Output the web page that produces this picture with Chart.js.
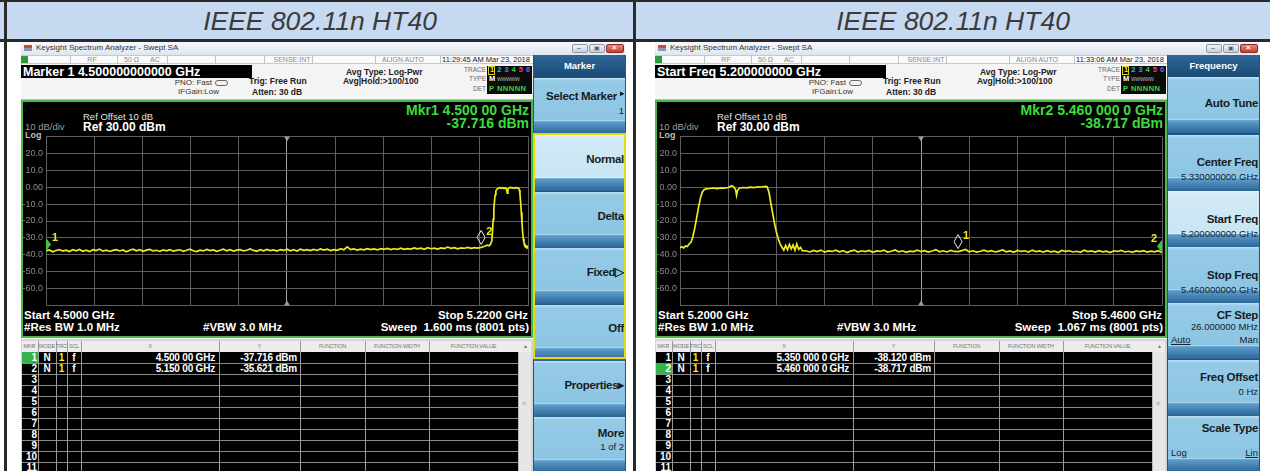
<!DOCTYPE html>
<html>
<head>
<meta charset="utf-8">
<script src="https://cdn.jsdelivr.net/npm/chart.js@4.4.1/dist/chart.umd.min.js"></script>
<style>
  body { margin:0; width:1270px; height:471px; overflow:hidden; background:#fff; position:relative; font-family:"Liberation Sans", Arial, sans-serif; }
  .box { position:absolute; box-sizing:border-box; }
  .t { position:absolute; white-space:nowrap; line-height:14px; height:14px; }
  .r { transform:translateX(-100%); }
  .c { transform:translateX(-50%); }
  .title { position:absolute; top:2px; height:37px; line-height:39px; text-align:center; font-style:italic; font-size:26.5px; color:#3b3b3b; }
  .panel { position:absolute; top:0; width:634px; height:471px; overflow:hidden; }
  .btn { position:absolute; left:534px; width:91px; height:56px;
         background:linear-gradient(#c2e3f3 0%, #95cae6 5%, #8cc5e3 74%, #a9d6ec 76%, #5d9dcb 78%, #2a6596 100%); }
  .btn.sel { background:linear-gradient(#e6f4fa 0%, #d2eaf6 5%, #c9e5f3 74%, #e2f2f9 76%, #5d9dcb 78%, #2a6596 100%); }
  .bt { color:#161c22; font-weight:bold; font-size:11.5px; letter-spacing:-0.3px; }
  .bs { color:#15222e; font-size:9.5px; }
</style>
</head>
<body>
<script>
// axis ticks (dBm), 10 dB/div, ref 30 dBm
const yTickValues = [30, 20, 10, 0, -10, -20, -30, -40, -50, -60, -70];
const yTickLabels = ['', '20.0', '10.0', '0.00', '-10.0', '-20.0', '-30.0', '-40.0', '-50.0', '-60.0', ''];

// frequency spans (GHz)
const leftSpan = [4.5, 5.22];
const rightSpan = [5.2, 5.46];

// trace 1 of the left screen, [GHz, dBm]
const leftTrace = [
  [4.500,-37.7],[4.505,-37.1],[4.510,-38.2],[4.515,-37.4],[4.520,-36.9],[4.525,-37.8],[4.530,-37.2],[4.535,-38.0],[4.540,-37.0],[4.545,-37.6],
  [4.550,-36.8],[4.555,-37.9],[4.560,-37.3],[4.565,-38.1],[4.570,-37.0],[4.575,-37.5],[4.580,-36.6],[4.585,-37.8],[4.590,-37.2],[4.595,-38.0],
  [4.600,-37.4],[4.605,-36.9],[4.610,-37.7],[4.615,-37.1],[4.620,-38.2],[4.625,-37.3],[4.630,-36.7],[4.635,-37.6],[4.640,-37.0],[4.645,-37.9],
  [4.650,-37.2],[4.655,-36.8],[4.660,-37.7],[4.665,-37.3],[4.670,-38.0],[4.675,-37.1],[4.680,-37.6],[4.685,-36.9],[4.690,-37.8],[4.695,-37.4],
  [4.700,-37.0],[4.705,-37.9],[4.710,-37.3],[4.715,-36.7],[4.720,-37.6],[4.725,-38.1],[4.730,-37.2],[4.735,-37.7],[4.740,-36.8],[4.745,-37.5],
  [4.750,-37.1],[4.755,-37.9],[4.760,-37.3],[4.765,-36.6],[4.770,-37.6],[4.775,-37.0],[4.780,-37.8],[4.785,-37.2],[4.790,-36.9],[4.795,-37.7],
  [4.800,-37.3],[4.805,-36.5],[4.810,-37.4],[4.815,-37.9],[4.820,-37.0],[4.825,-37.6],[4.830,-36.8],[4.835,-37.5],[4.840,-37.1],[4.845,-37.8],
  [4.850,-36.9],[4.855,-37.4],[4.860,-36.7],[4.865,-37.6],[4.870,-37.0],[4.875,-37.7],[4.880,-36.6],[4.885,-37.3],[4.890,-36.9],[4.895,-37.5],
  [4.900,-36.8],[4.905,-37.4],[4.910,-36.5],[4.915,-37.2],[4.920,-36.7],[4.925,-37.5],[4.930,-36.9],[4.935,-37.3],[4.940,-36.4],[4.945,-37.0],
  [4.950,-35.3],[4.955,-36.9],[4.960,-36.5],[4.965,-37.2],[4.970,-36.6],[4.975,-37.0],[4.980,-36.3],[4.985,-36.9],[4.990,-36.5],[4.995,-37.1],
  [5.000,-36.4],[5.005,-36.8],[5.010,-36.2],[5.015,-36.9],[5.020,-36.4],[5.025,-36.7],[5.030,-36.1],[5.035,-36.8],[5.040,-36.3],[5.045,-36.6],
  [5.050,-35.9],[5.055,-36.5],[5.060,-36.1],[5.065,-36.7],[5.070,-35.8],[5.075,-36.4],[5.080,-36.0],[5.085,-36.6],[5.090,-35.9],[5.095,-36.3],
  [5.100,-35.4],[5.105,-36.2],[5.110,-35.8],[5.115,-36.4],[5.120,-35.9],[5.125,-36.1],[5.130,-35.6],[5.135,-36.2],[5.140,-35.7],[5.145,-36.0],
  [5.150,-35.6],[5.153,-35.2],[5.156,-34.8],[5.159,-34.3],[5.162,-34.6],[5.164,-33.8],[5.166,-31.5],[5.167,-26.0],[5.168,-19.0],[5.169,-13.0],
  [5.170,-8.0],[5.171,-4.5],[5.172,-2.2],[5.174,-1.0],[5.176,-0.6],[5.178,-0.2],[5.180,-0.7],[5.182,-0.3],[5.184,-0.8],[5.186,-0.4],
  [5.188,-1.2],[5.189,-3.6],[5.190,-1.0],[5.192,-0.5],[5.194,-0.1],[5.196,-0.6],[5.198,-0.3],[5.200,-0.7],[5.202,-0.2],[5.204,-0.5],
  [5.206,-0.4],[5.207,-1.5],[5.208,-4.0],[5.209,-9.0],[5.210,-15.0],[5.211,-21.0],[5.212,-26.5],[5.213,-30.5],[5.214,-33.0],[5.215,-34.6],
  [5.216,-35.3],[5.217,-35.0],[5.218,-35.8],[5.219,-35.2],[5.220,-36.3]
];

// trace 1 of the right screen, [GHz, dBm]
const rightTrace = [
  [5.200,-35.8],[5.201,-35.2],[5.202,-35.9],[5.203,-34.8],[5.204,-35.1],[5.205,-33.5],[5.206,-32.5],[5.207,-29.0],[5.208,-24.0],[5.209,-18.0],
  [5.210,-12.0],[5.211,-6.5],[5.212,-3.0],[5.213,-1.5],[5.214,-1.0],[5.216,-0.8],[5.218,-0.5],[5.220,-0.9],[5.222,-0.4],[5.224,-0.6],
  [5.226,-0.2],[5.228,0.8],[5.229,0.2],[5.230,-1.5],[5.2305,-4.8],[5.231,-2.0],[5.232,-0.6],[5.234,-0.2],[5.236,-0.4],[5.238,0.0],
  [5.240,-0.3],[5.242,0.2],[5.244,0.1],[5.246,0.5],[5.247,0.3],[5.248,-3.0],[5.249,-9.5],[5.250,-15.5],[5.251,-21.5],[5.252,-26.5],
  [5.253,-30.5],[5.254,-33.5],[5.255,-35.5],[5.256,-37.2],[5.257,-34.5],[5.258,-37.0],[5.259,-33.8],[5.260,-36.5],[5.261,-34.2],[5.262,-37.3],
  [5.263,-33.5],[5.264,-36.8],[5.265,-35.6],[5.266,-37.5],[5.268,-37.6],[5.270,-38.3],[5.272,-37.4],[5.274,-38.1],[5.276,-37.2],[5.278,-38.4],
  [5.280,-37.7],[5.282,-38.0],[5.284,-37.3],[5.286,-38.2],[5.288,-37.5],[5.290,-38.6],[5.292,-37.8],[5.294,-37.2],[5.296,-38.3],[5.298,-37.6],
  [5.300,-38.1],[5.302,-37.4],[5.304,-38.5],[5.306,-37.7],[5.308,-38.0],[5.310,-37.3],[5.312,-38.4],[5.314,-37.9],[5.316,-37.1],[5.318,-38.2],
  [5.320,-37.6],[5.322,-38.5],[5.324,-37.8],[5.326,-38.1],[5.328,-37.3],[5.330,-38.0],[5.332,-37.5],[5.334,-38.4],[5.336,-37.7],[5.338,-36.9],
  [5.340,-38.2],[5.342,-37.6],[5.344,-38.3],[5.346,-37.4],[5.348,-38.0],[5.350,-38.1],[5.352,-37.5],[5.354,-36.8],[5.356,-38.2],[5.358,-37.6],
  [5.360,-38.4],[5.362,-37.9],[5.364,-37.2],[5.366,-38.1],[5.368,-37.5],[5.370,-38.3],[5.372,-37.8],[5.374,-37.1],[5.376,-38.2],[5.378,-37.7],
  [5.380,-38.5],[5.382,-37.4],[5.384,-38.0],[5.386,-37.6],[5.388,-38.3],[5.390,-37.2],[5.392,-38.1],[5.394,-37.7],[5.396,-38.4],[5.398,-37.5],
  [5.400,-38.2],[5.402,-37.8],[5.404,-38.6],[5.406,-37.4],[5.408,-38.0],[5.410,-37.6],[5.412,-38.3],[5.414,-37.9],[5.416,-38.5],[5.418,-37.3],
  [5.420,-38.1],[5.422,-37.7],[5.424,-38.4],[5.426,-37.5],[5.428,-38.2],[5.430,-37.8],[5.432,-38.6],[5.434,-37.6],[5.436,-38.0],[5.438,-37.4],
  [5.440,-38.3],[5.442,-37.9],[5.444,-38.5],[5.446,-37.7],[5.448,-38.1],[5.450,-37.5],[5.452,-38.4],[5.454,-37.8],[5.456,-38.2],[5.458,-37.6],
  [5.460,-38.7]
];

// markers
const leftMarkerFreq = [4.5, 5.15];
const leftMarkerLevel = [-37.716, -35.621];
const leftMarkerX = ['4.500 00 GHz', '5.150 00 GHz'];
const leftMarkerY = ['-37.716 dBm', '-35.621 dBm'];
const rightMarkerFreq = [5.35, 5.46];
const rightMarkerLevel = [-38.120, -38.717];
const rightMarkerX = ['5.350 000 0 GHz', '5.460 000 0 GHz'];
const rightMarkerY = ['-38.120 dBm', '-38.717 dBm'];

const tableCols = [21, 38, 56, 67, 81, 219, 300, 365, 429, 518, 532];
const tableHead = ['MKR', 'MODE', 'TRC', 'SCL', 'X', 'Y', 'FUNCTION', 'FUNCTION WIDTH', 'FUNCTION VALUE', '&#9652;'];

// little helpers for placing text / boxes
function T(x, y, s, style, cls) {
  return `<div class="t ${cls || ''}" style="left:${x}px;top:${y - 7}px;${style || ''}">${s}</div>`;
}
function B(x, y, w, h, style) {
  return `<div class="box" style="left:${x}px;top:${y}px;width:${w}px;height:${h}px;${style || ''}"></div>`;
}

function buildPanel(ox, cfg) {
  const p = document.createElement('div');
  p.className = 'panel';
  p.style.left = ox + 'px';
  let h = '';

  // window title bar
  h += B(21, 42, 604, 13, 'background:linear-gradient(#f6f8fb,#dfe6ef);');
  h += B(24, 45, 8, 6, 'background:linear-gradient(#c84a3c 50%,#8d9aa8 50%);');
  h += T(36, 48, 'Keysight Spectrum Analyzer - Swept SA', 'font-size:8px;color:#333;');
  h += B(572, 44, 16, 9, 'background:linear-gradient(#eef3f8,#c6d2de);border:1px solid #8c9aa8;border-radius:2px;');
  h += B(589, 44, 16, 9, 'background:linear-gradient(#eef3f8,#c6d2de);border:1px solid #8c9aa8;border-radius:2px;');
  h += B(606, 44, 18, 9, 'background:linear-gradient(#e98a7c,#c3402f);border:1px solid #8b2a20;border-radius:2px;');
  h += T(577, 48, '&#8211;', 'font-size:7px;color:#555;');
  h += T(594, 48, '&#9635;', 'font-size:6px;color:#555;');
  h += T(612, 48, '&#215;', 'font-size:8px;color:#fff;font-weight:bold;');

  // status row
  h += B(21, 55, 512, 9, 'background:#fbfbfb;border-top:1px solid #c8c8c8;border-bottom:1px solid #c8c8c8;');
  [70, 117, 167, 215, 264, 312, 375, 440].forEach(x => { h += B(x, 55, 1, 9, 'background:#c4c4c4;'); });
  h += B(21, 56, 7, 7, 'background:#2d9a3a;');
  h += T(92, 60, 'RF', 'font-size:7px;color:#888;', 'c');
  h += T(124, 60, '50 &#937;', 'font-size:7px;color:#888;');
  h += T(150, 60, 'AC', 'font-size:7px;color:#888;');
  h += T(292, 60, 'SENSE:INT', 'font-size:7px;color:#888;', 'c');
  h += T(403, 60, 'ALIGN AUTO', 'font-size:7px;color:#888;', 'c');
  h += T(486, 60, cfg.time, 'font-size:7.5px;color:#222;', 'c');

  // setting row
  h += B(21, 64, 512, 36, 'background:#f4f4f4;border-bottom:1px solid #bcbcbc;');
  h += B(21, 65, 231, 13, 'background:#000;');
  h += T(23, 72, cfg.entry, 'font-size:12.5px;font-weight:bold;color:#fff;');
  h += T(212, 83, 'PNO: Fast', 'font-size:8px;color:#333;', 'r');
  h += B(215, 80, 13, 6, 'border:1px solid #666;border-radius:3px;');
  h += T(219, 92, 'IFGain:Low', 'font-size:8px;color:#333;', 'r');
  h += T(249, 81, 'Trig: Free Run', 'font-size:8.5px;font-weight:bold;color:#222;');
  h += T(252, 92, 'Atten: 30 dB', 'font-size:8.5px;font-weight:bold;color:#222;');
  h += T(346, 72, 'Avg Type: Log-Pwr', 'font-size:8.5px;font-weight:bold;color:#222;');
  h += T(343, 81, 'Avg|Hold:&gt;100/100', 'font-size:8.5px;font-weight:bold;color:#222;');
  h += T(486, 70, 'TRACE', 'font-size:6.5px;color:#666;', 'r');
  h += T(486, 79, 'TYPE', 'font-size:6.5px;color:#666;', 'r');
  h += T(486, 89, 'DET', 'font-size:6.5px;color:#666;', 'r');
  h += B(487, 66, 45, 28, 'background:#0b0b0b;');
  h += B(488, 66, 7, 9, 'border:1px solid #d8d020;');
  const tc = ['#f2ea1d', '#20c8c8', '#3d8cff', '#3fcf3f', '#ff3d6b', '#7b5bff'];
  tc.forEach((c, i) => { h += T(490 + i * 7.2, 70, String(i + 1), `font-size:7.5px;font-weight:bold;color:${c};`); });
  h += T(489, 79, 'M', 'font-size:7.5px;font-weight:bold;color:#fff;');
  h += T(497, 79, 'WWWWW', 'font-size:5px;color:#bbb;letter-spacing:-0.2px;');
  h += T(489, 89, 'P NNNNN', 'font-size:7.5px;font-weight:bold;color:#3fd23f;letter-spacing:0.5px;');

  // plot panel
  h += B(21, 100, 512, 238, 'background:#000;border:2px solid #4cb84c;');
  h += T(83, 117, 'Ref Offset 10 dB', 'font-size:9.5px;color:#e2e2e2;');
  h += T(25, 127, '10 dB/div', 'font-size:9.5px;color:#9a9a9a;');
  h += T(83, 127, 'Ref 30.00 dBm', 'font-size:12px;font-weight:bold;color:#fff;');
  h += T(25, 135, 'Log', 'font-size:9px;font-weight:bold;color:#bdbdbd;');
  h += T(529, 110, cfg.mkr1, 'font-size:14px;font-weight:bold;color:#3ddc3d;', 'r');
  h += T(529, 123, cfg.mkr2, 'font-size:14px;font-weight:bold;color:#3ddc3d;', 'r');
  h += T(24, 315, cfg.start, 'font-size:11.5px;font-weight:bold;color:#fff;');
  h += T(528, 315, cfg.stop, 'font-size:11.5px;font-weight:bold;color:#fff;', 'r');
  h += T(24, 327, '#Res BW 1.0 MHz', 'font-size:11.5px;font-weight:bold;color:#fff;');
  h += T(203, 327, '#VBW 3.0 MHz', 'font-size:11.5px;font-weight:bold;color:#fff;');
  h += T(529, 327, cfg.sweep, 'font-size:11.5px;font-weight:bold;color:#fff;', 'r');
  h += `<canvas id="${cfg.id}" width="512" height="186" style="position:absolute;left:20px;top:128px;"></canvas>`;

  // marker table
  h += B(21, 339, 512, 132, 'background:#d6d6d6;');
  h += B(22, 341, 509, 11, 'background:#ececec;');
  h += B(22, 352, 496, 119, 'background:#000;');
  h += B(518, 352, 13, 119, 'background:#e6e6e6;border-left:1px solid #b8b8b8;');
  h += T(524, 404, '&#8801;', 'font-size:7px;color:#999;', 'c');
  for (let r = 1; r <= 11; r++) h += B(22, 352 + r * 11, 496, 1, 'background:#8a8a8a;');
  tableCols.slice(1, 9).forEach(x => { h += B(x, 341, 1, 130, 'background:#9a9a9a;'); });
  tableHead.forEach((s, i) => {
    const cx = (tableCols[i] + tableCols[i + 1]) / 2;
    h += T(cx, 346, s, 'font-size:5.5px;color:#777;letter-spacing:-0.15px;', 'c');
  });
  h += B(22, 352 + cfg.active * 11, 16, 11, 'background:#34b34a;');
  for (let r = 0; r < 11; r++) {
    const y = 358 + r * 11;
    h += T(37, y, String(r + 1), 'font-size:10px;font-weight:bold;color:#fff;', 'r');
    if (r < cfg.mx.length) {
      h += T(47, y, 'N', 'font-size:10px;font-weight:bold;color:#fff;', 'c');
      h += T(61.5, y, '1', 'font-size:10px;font-weight:bold;color:#f2ea1d;', 'c');
      h += T(74, y, 'f', 'font-size:10px;font-weight:bold;color:#fff;', 'c');
      h += T(215, y, cfg.mx[r], 'font-size:10px;font-weight:bold;color:#fff;letter-spacing:-0.2px;', 'r');
      h += T(297, y, cfg.my[r], 'font-size:10px;font-weight:bold;color:#fff;letter-spacing:-0.2px;', 'r');
    }
  }

  // soft key panel
  h += B(533, 55, 93, 416, 'background:#1f5483;');
  h += B(534, 55, 91, 22, 'background:linear-gradient(#2f6797,#1b4a76);');
  h += T(579.5, 66, cfg.menu, 'font-size:9.5px;font-weight:bold;color:#fff;', 'c');
  cfg.keys.forEach(k => {
    h += `<div class="btn${k.sel ? ' sel' : ''}" style="top:${k.top}px;"></div>`;
    k.lines.forEach(l => {
      const left = l[3] === 'l';
      const x = left ? 537 : (l[5] || 624);
      h += T(x, k.top + l[0], l[1], l[4] || '', (l[2] === 'b' ? 'bt ' : 'bs ') + (left ? '' : 'r'));
    });
  });
  if (cfg.frame) h += B(533, cfg.frame[0], 93, cfg.frame[1], 'border:2px solid #e2dc12;');

  p.innerHTML = h;
  document.body.appendChild(p);
}

function markerPlugin(freqs, levels) {
  return {
    id: 'markers',
    afterDatasetsDraw(chart) {
      const { ctx, chartArea: a, scales: { x, y } } = chart;
      ctx.save();
      // centre frequency ticks
      const cx = x.getPixelForValue((x.min + x.max) / 2);
      ctx.fillStyle = '#9c9c9c';
      ctx.beginPath(); ctx.moveTo(cx - 3, a.top); ctx.lineTo(cx + 3, a.top); ctx.lineTo(cx, a.top + 5); ctx.fill();
      ctx.beginPath(); ctx.moveTo(cx - 3, a.bottom); ctx.lineTo(cx + 3, a.bottom); ctx.lineTo(cx, a.bottom - 5); ctx.fill();
      ctx.font = 'bold 11px "Liberation Sans", Arial';
      ctx.textBaseline = 'top';
      freqs.forEach((f, i) => {
        const px = x.getPixelForValue(f), py = y.getPixelForValue(levels[i]);
        const label = String(i + 1);
        ctx.fillStyle = '#f0ea1e';
        if (px <= a.left + 1) {
          ctx.fillStyle = '#3fc83f';
          ctx.beginPath(); ctx.moveTo(a.left, py - 13); ctx.lineTo(a.left + 5, py - 6.5); ctx.lineTo(a.left, py); ctx.fill();
          ctx.fillStyle = '#f0ea1e';
          ctx.textAlign = 'left'; ctx.fillText(label, a.left + 6, py - 19);
        } else if (px >= a.right - 1) {
          ctx.fillStyle = '#3fc83f';
          ctx.beginPath(); ctx.moveTo(a.right, py - 13); ctx.lineTo(a.right - 5, py - 6.5); ctx.lineTo(a.right, py); ctx.fill();
          ctx.fillStyle = '#f0ea1e';
          ctx.textAlign = 'right'; ctx.fillText(label, a.right - 5, py - 19);
        } else {
          const cy = py - 10;
          ctx.strokeStyle = '#e8e8e8'; ctx.lineWidth = 1;
          ctx.beginPath(); ctx.moveTo(px, cy - 7); ctx.lineTo(px + 4, cy); ctx.lineTo(px, cy + 7); ctx.lineTo(px - 4, cy); ctx.closePath(); ctx.stroke();
          ctx.textAlign = 'left'; ctx.fillText(label, px + 5, py - 21);
        }
      });
      ctx.restore();
    }
  };
}

function drawTrace(id, span, trace, mkF, mkL) {
  new Chart(document.getElementById(id), {
    type: 'line',
    data: {
      datasets: [{
        data: trace.map(p => ({ x: p[0], y: p[1] })),
        borderColor: '#eeea1c',
        borderWidth: 1.7,
        pointRadius: 0,
        tension: 0
      }]
    },
    options: {
      responsive: false,
      animation: false,
      devicePixelRatio: 1,
      layout: { padding: { top: 5, right: 4, bottom: 7, left: 0 } },
      plugins: { legend: { display: false }, tooltip: { enabled: false } },
      scales: {
        x: {
          type: 'linear', min: span[0], max: span[1],
          ticks: { display: false, count: 11 },
          grid: { color: c => c.index === 5 ? '#a4a4a4' : '#5e5e5e', drawTicks: false },
          border: { display: false },
          afterFit: s => { s.height = 0; }
        },
        y: {
          min: -70, max: 30,
          afterBuildTicks: s => { s.ticks = yTickValues.map(v => ({ value: v })); },
          ticks: {
            color: '#8c8c8c', padding: 3,
            font: { size: 9, family: '"Liberation Sans", Arial' },
            callback: v => yTickLabels[yTickValues.indexOf(v)]
          },
          grid: { color: '#5e5e5e', drawTicks: false },
          border: { display: false },
          afterFit: s => { s.width = 26; }
        }
      }
    },
    plugins: [markerPlugin(mkF, mkL)]
  });
}

// frame and titles
document.body.insertAdjacentHTML('beforeend',
  B(0, 2, 1270, 37, 'background:#c6d9f1;') +
  B(0, 0, 1270, 2, 'background:#2a2a2a;') +
  B(0, 39, 1270, 3, 'background:#2a2a2a;') +
  B(4, 0, 3, 471, 'background:#2a2a2a;') +
  B(633, 0, 3, 471, 'background:#2a2a2a;') +
  '<div class="title" style="left:7px;width:626px;">IEEE 802.11n HT40</div>' +
  '<div class="title" style="left:636px;width:634px;">IEEE 802.11n HT40</div>');

buildPanel(0, {
  id: 'leftPlot', time: '11:29:45 AM Mar 23, 2018', entry: 'Marker 1 4.500000000000 GHz',
  mkr1: 'Mkr1 4.500 00 GHz', mkr2: '-37.716 dBm',
  start: 'Start 4.5000 GHz', stop: 'Stop 5.2200 GHz', sweep: 'Sweep&nbsp; 1.600 ms (8001 pts)',
  mx: leftMarkerX, my: leftMarkerY, active: 0, menu: 'Marker', frame: [133, 226],
  keys: [
    { top: 78, lines: [[18, 'Select Marker', 'b', 'r', '', 617], [15, '&#9656;', 's', 'r', 'font-size:9px;color:#111;', 625], [33, '1', 's']] },
    { top: 135, sel: true, lines: [[24, 'Normal', 'b']] },
    { top: 192, lines: [[24, 'Delta', 'b']] },
    { top: 248, lines: [[24, 'Fixed&#9655;', 'b']] },
    { top: 305, lines: [[23, 'Off', 'b']] },
    { top: 361, lines: [[24, 'Properties&#9656;', 'b']] },
    { top: 417, lines: [[16, 'More', 'b'], [30, '1 of 2', 's']] }
  ]
});
buildPanel(634, {
  id: 'rightPlot', time: '11:33:06 AM Mar 23, 2018', entry: 'Start Freq 5.200000000 GHz',
  mkr1: 'Mkr2 5.460 000 0 GHz', mkr2: '-38.717 dBm',
  start: 'Start 5.2000 GHz', stop: 'Stop 5.4600 GHz', sweep: 'Sweep&nbsp; 1.067 ms (8001 pts)',
  mx: rightMarkerX, my: rightMarkerY, active: 1, menu: 'Frequency',
  keys: [
    { top: 77, lines: [[26, 'Auto Tune', 'b']] },
    { top: 135, lines: [[27, 'Center Freq', 'b'], [42, '5.330000000 GHz', 's']] },
    { top: 191, sel: true, lines: [[28, 'Start Freq', 'b'], [43, '5.200000000 GHz', 's']] },
    { top: 247, lines: [[28, 'Stop Freq', 'b'], [43, '5.460000000 GHz', 's']] },
    { top: 303, lines: [[12, 'CF Step', 'b'], [24, '26.000000 MHz', 's'], [37, '<u>Auto</u>', 's', 'l'], [37, 'Man', 's']] },
    { top: 360, lines: [[17, 'Freq Offset', 'b'], [32, '0 Hz', 's']] },
    { top: 416, lines: [[12, 'Scale Type', 'b'], [37, 'Log', 's', 'l'], [37, '<u>Lin</u>', 's']] }
  ]
});

drawTrace('leftPlot', leftSpan, leftTrace, leftMarkerFreq, leftMarkerLevel);
drawTrace('rightPlot', rightSpan, rightTrace, rightMarkerFreq, rightMarkerLevel);
</script>
</body>
</html>
